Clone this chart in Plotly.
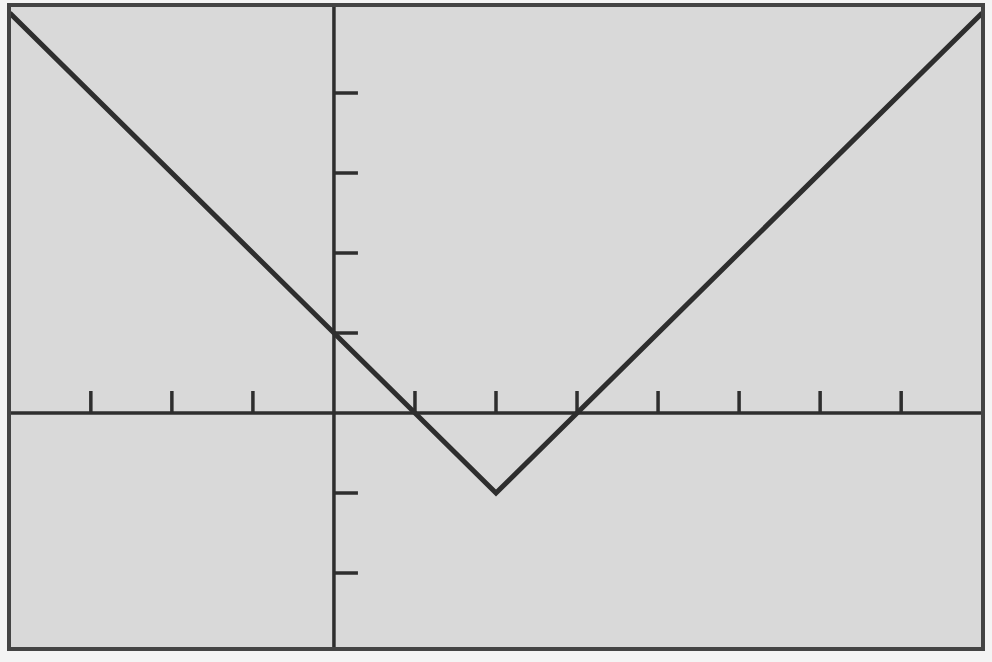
import plotly.graph_objects as go

# Data: y = |x - 2| - 1 on window [-4, 8] x [-3, 5]
x_vals = [-4, 2, 8]
y_vals = [5, -1, 5]
x_ticks = [-3, -2, -1, 1, 2, 3, 4, 5, 6, 7]
y_ticks = [-2, -1, 1, 2, 3, 4]
x_range = [-4.01, 8.01]
y_range = [-2.95, 5.1]

ink = "#2e2e2e"
fig = go.Figure()
fig.add_trace(go.Scatter(x=x_vals, y=y_vals, mode="lines", cliponaxis=False,
                         line=dict(color=ink, width=5), hoverinfo="skip"))

shapes = []
# axes
shapes.append(dict(type="line", xref="x", yref="y", x0=x_range[0], x1=x_range[1], y0=0, y1=0,
                   line=dict(color=ink, width=3.5), layer="below"))
shapes.append(dict(type="line", xref="x", yref="y", x0=0, x1=0, y0=y_range[0], y1=y_range[1],
                   line=dict(color=ink, width=3.5), layer="below"))
for t in x_ticks:
    shapes.append(dict(type="line", xref="x", yref="y", ysizemode="pixel", yanchor=0,
                       x0=t, x1=t, y0=0, y1=22, line=dict(color=ink, width=3.5), layer="below"))
for t in y_ticks:
    shapes.append(dict(type="line", xref="x", yref="y", xsizemode="pixel", xanchor=0,
                       x0=0, x1=24, y0=t, y1=t, line=dict(color=ink, width=3.5), layer="below"))
# frame
shapes.append(dict(type="rect", xref="paper", yref="paper", x0=0, x1=1, y0=0, y1=1,
                   line=dict(color="#444444", width=4)))

fig.update_layout(
    width=992, height=662,
    margin=dict(l=9, r=9, t=5, b=13),
    paper_bgcolor="#f4f4f4",
    plot_bgcolor="#d9d9d9",
    showlegend=False,
    hovermode=False,
    shapes=shapes,
    xaxis=dict(range=x_range, showgrid=False, zeroline=False, showticklabels=False, ticks=""),
    yaxis=dict(range=y_range, showgrid=False, zeroline=False, showticklabels=False, ticks=""),
)
fig.write_html("out.html", config={"displayModeBar": False},
               post_script="document.body.style.margin='0';")
